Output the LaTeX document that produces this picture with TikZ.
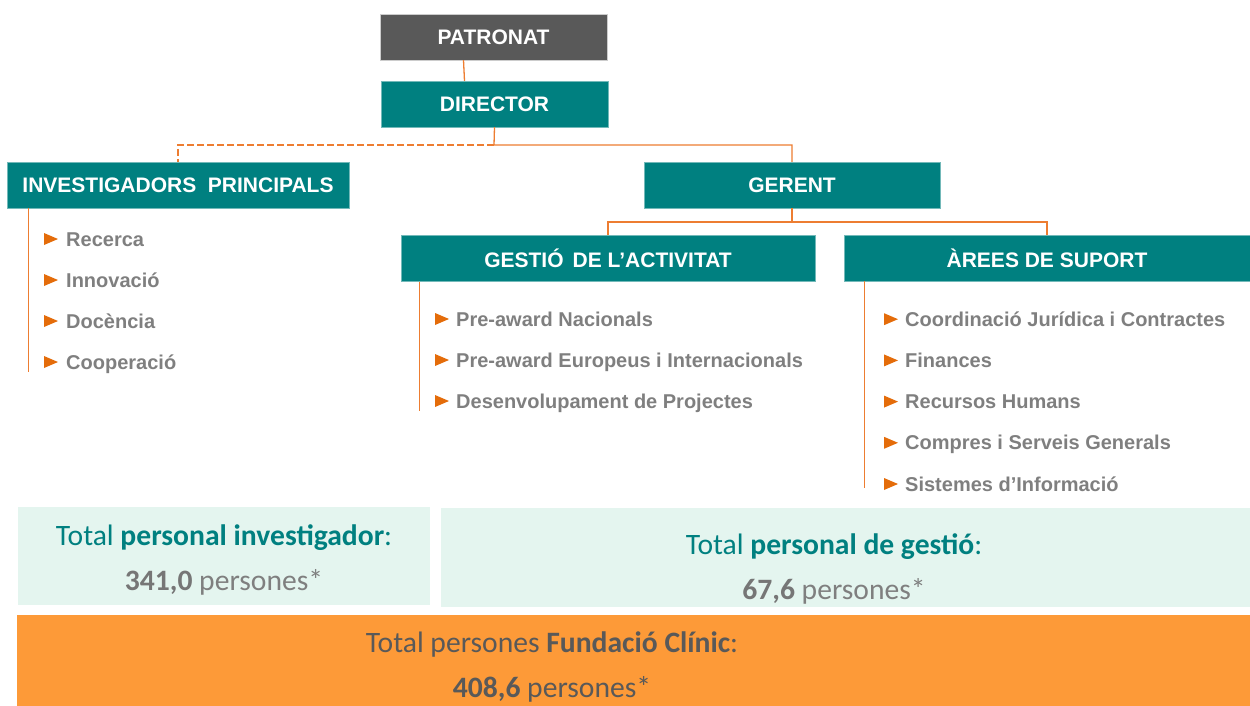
\documentclass[tikz,border=0pt]{standalone}
\usepackage{fontspec}
\setmainfont{Liberation Sans}
\newfontfamily\calib{Carlito}

\definecolor{boxteal}{HTML}{008080}
\definecolor{patrongray}{HTML}{595959}
\definecolor{lineorange}{HTML}{ED7D31}
\definecolor{bulletorange}{HTML}{E46C0A}
\definecolor{itemgray}{HTML}{7F7F7F}
\definecolor{numgray}{HTML}{767676}
\definecolor{mint}{HTML}{E4F5EF}
\definecolor{totorange}{HTML}{FD9A38}
\definecolor{darktext}{HTML}{595959}

\tikzset{
  headbox/.style={fill=boxteal, draw=boxteal!55!white, text=white, minimum height=46, inner sep=0,
    font=\bfseries\fontsize{21}{25}\selectfont},
  link/.style={draw=lineorange, line width=1.3},
  item/.style={anchor=base west, inner sep=0, text=itemgray, font=\bfseries\fontsize{20}{24}\selectfont},
  total/.style={align=center, inner sep=0, font=\calib\fontsize{29.6}{45}\selectfont}
}

\begin{document}
\begin{tikzpicture}[x=1pt,y=-1pt]
  \useasboundingbox (0,0) rectangle (1250,706);

  % top boxes
  \node[headbox, fill=patrongray, draw=gray!40, minimum width=227] (patronat) at (493.5,37) {PATRONAT};
  \node[headbox, minimum width=227] (director) at (494.5,104) {DIRECTOR};
  \node[headbox, minimum width=342] (ip) at (178,185) {INVESTIGADORS\ \ PRINCIPALS};
  \node[headbox, minimum width=296] (gerent) at (792,185) {GERENT};
  \node[headbox, minimum width=414] (gestio) at (608,258.5) {GESTIÓ\hspace{9pt}DE L’ACTIVITAT};
  \node[headbox, minimum width=406] (arees) at (1047,258) {ÀREES DE SUPORT};

  % connectors
  \coordinate (dj) at (494,145);
  \coordinate (gj) at (792,222);
  \draw[link] ([xshift=-30]patronat.south) -- ([xshift=-30]director.north);
  \draw[link] (director.south) -- (dj) -| (gerent.north);
  \draw[link, dashed, dash pattern=on 7 off 3] (dj) -| (ip.north);
  \draw[link] (gerent.south) -- (gj) -| (gestio.north);
  \draw[link] (gj) -| (arees.north);

  % side lines of the lists
  \draw[link] ([xshift=22]ip.south west) -- ++(0,164);
  \draw[link] ([xshift=19]gestio.south west) -- ++(0,129);
  \draw[link] ([xshift=21]arees.south west) -- ++(0,207);

  % lists
  \foreach \t [count=\i] in {Recerca,Innovació,Docència,Cooperació} {
    \node[item] (ipi\i) at (66,205+41*\i) {\t};
    \fill[bulletorange] ([xshift=-22,yshift=7]ipi\i.base west) -- ++(0,-6) -- ++(14,6) -- ++(-14,6) -- cycle;
  }
  \foreach \t [count=\i] in {Pre-award Nacionals,Pre-award Europeus i Internacionals,Desenvolupament de Projectes} {
    \node[item] (gsi\i) at (456,285+41*\i) {\t};
    \fill[bulletorange] ([xshift=-21,yshift=7]gsi\i.base west) -- ++(0,-6) -- ++(14,6) -- ++(-14,6) -- cycle;
  }
  \foreach \t [count=\i] in {Coordinació Jurídica i Contractes,Finances,Recursos Humans,Compres i Serveis Generals,Sistemes d’Informació} {
    \node[item] (ari\i) at (905,285+41.2*\i) {\t};
    \fill[bulletorange] ([xshift=-21,yshift=7]ari\i.base west) -- ++(0,-6) -- ++(14,6) -- ++(-14,6) -- cycle;
  }

  % totals
  \fill[mint] (18,507) rectangle (430,605);
  \fill[mint] (441,508) rectangle (1250,607);
  \fill[totorange] (17,615) rectangle (1250,706);
  \node[total, text=boxteal] (totinv) at (224,559.5) {Total \textbf{personal investigador}:\\
    {\color{numgray}\textbf{341,0}} {\color{itemgray}persones*}};
  \node[total, text=boxteal] (totges) at (834,569) {Total \textbf{personal de gestió}:\\
    {\color{numgray}\textbf{67,6}} {\color{itemgray}persones*}};
  \node[total, text=darktext] (totfc) at (552,666.5) {Total persones \textbf{Fundació Clínic}:\\
    \textbf{408,6} persones*};
\end{tikzpicture}
\end{document}
